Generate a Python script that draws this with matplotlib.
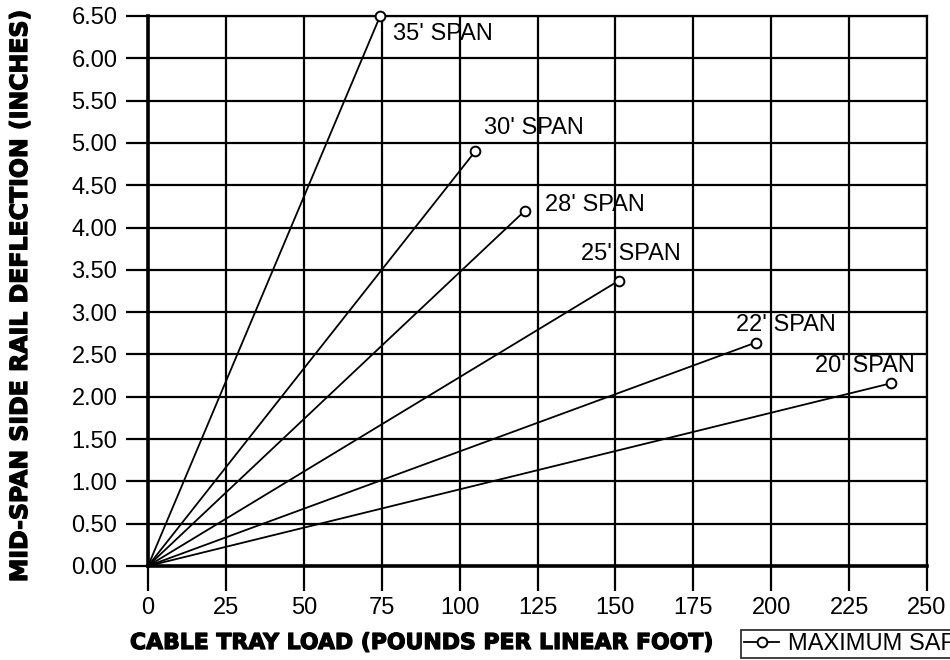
import matplotlib
matplotlib.use("Agg")
import matplotlib.pyplot as plt
import matplotlib.patheffects as pe
from matplotlib.lines import Line2D

# ── Data ───────────────────────────────────────────────────────────────────
SPANS = ["35' SPAN", "30' SPAN", "28' SPAN", "25' SPAN", "22' SPAN", "20' SPAN"]
MAX_LOAD = [74.5, 105, 121, 151, 195, 238.5]       # lb/ft at max safe load
MAX_DEFL = [6.50, 4.90, 4.20, 3.37, 2.64, 2.16]    # inches
LABEL_X = [78.6, 107.8, 127.4, 139.0, 188.6, 214.0]
LABEL_Y = [6.29, 5.18, 4.27, 3.69, 2.85, 2.36]

X_TICKS = [0, 25, 50, 75, 100, 125, 150, 175, 200, 225, 250]
Y_TICKS = [0.0, 0.5, 1.0, 1.5, 2.0, 2.5, 3.0, 3.5, 4.0, 4.5, 5.0, 5.5, 6.0, 6.5]

plt.rcParams.update({
    "font.family": ["Liberation Sans", "DejaVu Sans"],
    "font.size": 17,
})

fig = plt.figure(figsize=(9.5, 6.6), dpi=100)
ax = fig.add_axes([148 / 950, 1 - 566 / 660, 779 / 950, 550 / 660])

for x1, y1 in zip(MAX_LOAD, MAX_DEFL):
    ax.plot([0, x1], [0, y1], color="black", linewidth=1.3, zorder=3)
    ax.plot([x1], [y1], marker="o", markersize=7, mfc="white", mec="black",
            mew=1.4, color="black", zorder=4, clip_on=False)

for lbl, lx, ly in zip(SPANS, LABEL_X, LABEL_Y):
    ax.text(lx, ly, lbl, ha="left", va="center", fontsize=17, zorder=5)

ax.set_xlim(0, 250)
ax.set_ylim(0, 6.5)
ax.set_xticks(X_TICKS)
ax.set_yticks(Y_TICKS)
ax.set_yticklabels([f"{v:.2f}" for v in Y_TICKS])
ax.grid(True, color="black", linewidth=1.6)
ax.set_axisbelow(True)
ax.tick_params(axis="x", direction="out", length=18, width=1.6, pad=4)
ax.tick_params(axis="y", direction="out", length=16, width=1.6, pad=6)
for side in ["top", "right"]:
    ax.spines[side].set_linewidth(1.6)
for side in ["left", "bottom"]:
    ax.spines[side].set_linewidth(2.6)

# heavy (Arial Black-like) axis titles: bold face plus a thin outline
heavy = [pe.withStroke(linewidth=0.9, foreground="black")]
fig.text(130 / 950, 1 - 643 / 660, "CABLE TRAY LOAD (POUNDS PER LINEAR FOOT)",
         ha="left", va="center", fontsize=15.8, fontweight="heavy",
         family="DejaVu Sans", path_effects=heavy)
fig.text(20 / 950, 1 - 296 / 660, "MID-SPAN SIDE RAIL DEFLECTION (INCHES)",
         ha="center", va="center", rotation=90, fontsize=17,
         fontweight="heavy", family="DejaVu Sans", path_effects=heavy)

handle = Line2D([], [], color="black", linewidth=1.3, marker="o", markersize=7,
                mfc="white", mec="black", mew=1.4, markevery=[1])
handle.set_data([0, 1], [0, 0])
leg = fig.legend([handle], ["MAXIMUM SAFE LOAD"], loc="lower left",
                 bbox_to_anchor=(741 / 950, 2 / 660), frameon=True,
                 fancybox=False, edgecolor="black", fontsize=17,
                 handlelength=1.5, borderpad=0.12, borderaxespad=0,
                 handletextpad=0.35)
leg.get_frame().set_linewidth(1.3)

fig.savefig("out.png", dpi=100)
